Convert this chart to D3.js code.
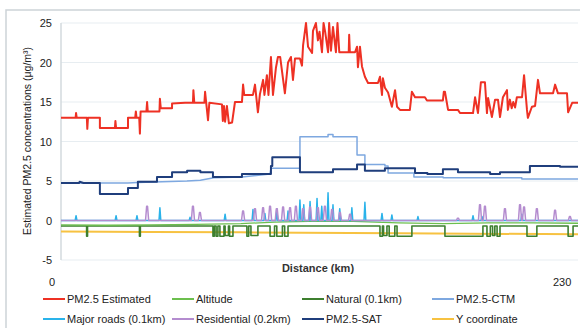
<!DOCTYPE html>
<head>
  <meta charset="utf-8">
  <style>
    body { margin: 0; background: #fff; }
    text { font-family: 'Liberation Sans', Arial, sans-serif; fill: #222; }
    .tick-label { font-size: 11px; }
    .legend text { font-size: 11px; }
  </style>
</head>
<body>
  <script src="https://cdn.jsdelivr.net/npm/d3@7"></script>
  <script>
    const width = 580;
    const height = 328;
    const plot = {left: 61, right: 578, top: 23, bottom: 260};

    // y ticks and x end labels
    const yTicks = [-5, 0, 5, 10, 15, 20, 25];
    const xEndLabels = [0, 230];

    // PM2.5 Estimated  [distance km, value]
    const pmEstimated = [
      [0,13.0],[6.5,13.0],[6.7,13.6],[7,13.0],[11.5,13.0],[11.7,11.6],[12,13.0],[17.3,13.0],[17.3,11.7],[24,11.7],
      [24.2,12.6],[24.5,11.7],[29.8,11.7],[29.8,13.0],[33,13.0],[33.3,13.8],[33.6,13.0],[34.8,13.0],[35.1,11.0],[35.4,13.8],
      [38,13.8],[38.3,15.0],[38.6,13.8],[43.8,13.8],[44,15.4],[44.4,14.2],[49.4,14.2],[49.4,14.8],[55.2,14.9],[58.7,14.9],
      [58.9,16.5],[59.3,14.9],[63.8,14.9],[64.1,16.3],[64.6,14.9],[65.4,12.7],[66,14.9],[71.6,14.7],[72,12.6],[72.5,14.5],
      [73,12.5],[73.8,14.5],[74.7,12.3],[76.1,12.4],[77.4,15.0],[80.5,15.0],[81,17.2],[81.5,15.9],[85.4,15.9],[86.3,17.2],
      [87.6,13.7],[88.5,16.0],[89.9,17.8],[90.5,15.9],[91.6,18.4],[92.3,15.9],[93.4,20.7],[94.3,15.9],[95.6,19.3],[96.5,20.7],
      [97.5,20.7],[99.6,16.1],[101,20.0],[102.3,20.7],[103.2,17.8],[104.1,20.5],[106.3,20.5],[107.2,19.6],[107.7,22.2],[109,25.0],
      [109.9,22.0],[111.7,21.2],[112.1,24.0],[113.4,25.0],[114.3,22.8],[115,23.9],[116.1,21.3],[116.8,25.0],[117.5,23.9],[118.8,21.3],
      [119.3,25.0],[120.1,21.5],[121,24.5],[122.3,21.3],[123,25.0],[123.8,21.3],[128,21.3],[128.2,23.5],[128.5,21.3],[130.8,21.3],
      [131.7,22.0],[132.1,19.4],[133,22.0],[133.9,19.5],[135.2,18.2],[136.6,17.4],[141,17.4],[141.9,18.2],[142.8,15.9],[143.2,18.0],
      [144.1,16.8],[145.5,16.2],[147.2,14.4],[148.6,16.5],[149.5,14.4],[150.8,14.0],[155.2,14.0],[156.1,16.3],[157.5,15.6],[161.9,15.6],
      [162.8,15.2],[169.9,15.2],[170.3,16.3],[170.8,16.3],[172.2,14.0],[176.6,14.0],[177.5,13.6],[183.3,13.6],[184.2,15.6],[185.5,13.6],
      [186.8,17.5],[188.6,17.5],[189.5,13.6],[190,15.5],[191.7,13.1],[193.1,15.3],[194.4,15.3],[195.3,13.1],[196.6,15.6],[198.4,16.5],
      [198.8,14.0],[199.7,15.3],[200.5,14.2],[201.2,15.0],[202,14.3],[202.8,15.6],[205.1,15.6],[206,18.4],[207.3,14.0],[207.7,13.0],
      [209.5,14.4],[210.9,14.5],[212.2,17.8],[213.1,16.1],[218.9,16.1],[219.8,17.2],[221.1,16.1],[225.1,16.1],[225.6,13.7],[227.4,14.9],
      [230,14.9]
    ];

    const pmSat = [
      [0,4.75],[8,4.75],[8.3,4.9],[10,4.75],[17.3,4.75],[17.3,3.35],[29.8,3.35],[29.8,4.1],[34.2,4.1],[34.2,4.9],
      [42.7,4.9],[42.7,5.5],[49.4,5.5],[49.4,6.1],[56.1,6.1],[56.1,6.3],[62,6.3],[62,6.1],[67.6,6.1],[67.6,5.5],
      [80.5,5.5],[80.5,5.9],[93.4,5.9],[93.4,6.9],[94,6.9],[94,8.0],[106.3,8.0],[106.3,6.1],[121,6.1],[121,6.5],
      [131.7,6.5],[131.7,7.1],[135.2,7.1],[135.2,6.3],[144.1,6.3],[144.1,6.6],[157.5,6.6],[157.5,6.0],[163,6.0],[163,5.9],
      [169.9,5.9],[169.9,6.5],[176.6,6.5],[176.6,6.1],[190.9,6.1],[190.9,5.9],[195.3,5.9],[195.3,6.1],[208.6,6.1],[208.6,6.9],
      [222,6.9],[222,6.8],[230,6.8]
    ];

    const pmCtm = [
      [0,4.75],[29.8,4.75],[34,4.8],[56,5.0],[62,5.1],[68,5.4],[80.5,5.5],[93,5.9],[93.4,6.6],[106.3,6.6],
      [106.3,10.6],[118.8,10.6],[118.8,10.9],[121,10.9],[121,10.6],[131.7,10.6],[131.7,8.3],[135.2,8.3],[135.2,7.1],[144.1,7.1],
      [144.1,6.9],[145.5,6.9],[145.5,6.0],[157,6.0],[157,5.5],[170,5.5],[170,5.4],[205,5.4],[205,5.25],[230,5.25]
    ];

    const yCoordinate = [[0,-1.4],[40,-1.45],[80,-1.5],[150,-1.6],[230,-1.75]];

    const altitude = [
      [0,-0.55],[20,-0.6],[40,-0.55],[60,-0.5],[80,-0.4],[95,-0.2],[110,-0.1],[130,-0.1],[150,-0.3],[170,-0.4],
      [190,-0.3],[210,-0.3],[230,-0.35]
    ];

    // Natural (0.1km): baseline, then dips [from km, to km, depth]
    const naturalBase = -0.7;
    const naturalDips = [
      [11.4,11.8,-2.0],[34.9,35.3,-2.0],[67.6,68.2,-2.0],[69.0,69.8,-2.0],[70.7,72.5,-2.0],[73,74.5,-1.9],[75,76.5,-2.0],
      [82.7,83.5,-2.0],[84.5,87.6,-1.9],[93,95,-2.0],[96,98.5,-2.0],[99.5,101,-2.0],[141.9,143,-2.0],[143.5,145,-1.9],
      [146,148.5,-2.0],[149.5,156.1,-2.0],[170.8,187.7,-2.0],[189.5,191,-2.0],[192,193,-1.9],[194,195.3,-2.0],
      [207.3,211.7,-2.0],[225.6,227.8,-2.0]
    ];

    // Major roads (0.1km): spikes [km, height]
    const roadSpikes = [
      [6.7,0.6],[24.5,0.6],[33.8,0.6],[44,1.6],[57.4,0.4],[73,0.8],[85.4,1.4],[90.7,0.9],[96,1.5],[101,1.2],
      [106.3,2.6],[108,2.0],[110.8,2.4],[113.9,2.8],[116,1.8],[118.8,3.5],[121,2.0],[124,1.5],[129.4,1.6],[135.2,2.3],
      [142.8,0.9],[147.2,0.7],[158.8,0.5],[183.3,0.6],[187.3,0.5],[205,0.8]
    ];

    // Residential (0.2km): bumps [km, height]
    const residentialBumps = [
      [38.3,1.8],[58.7,1.8],[61.8,1.0],[81,1.2],[86.3,1.5],[89.9,1.6],[93,1.8],[96,1.5],[98.8,1.7],[101.9,1.6],
      [104.5,1.8],[107.7,1.5],[110.8,1.7],[114.3,1.6],[117.4,1.8],[120.6,1.4],[124.1,1.0],[128.6,0.8],[176.6,0.3],[186.4,2.0],
      [188.6,1.8],[197.5,1.5],[204.2,2.0],[206,1.7],[211.7,1.5],[219.8,1.3],[226.4,0.5]
    ];

    const legendItems = [
      {name: "PM2.5 Estimated", color: "#ee3124"},
      {name: "Altitude", color: "#6cbf4e"},
      {name: "Natural (0.1km)", color: "#3d7f2f"},
      {name: "PM2.5-CTM", color: "#7ea8e0"},
      {name: "Major roads (0.1km)", color: "#2ab3ea"},
      {name: "Residential (0.2km)", color: "#b48ccf"},
      {name: "PM2.5-SAT", color: "#1f3e7c"},
      {name: "Y coordinate", color: "#f7c241"}
    ];
    const colorOf = name => legendItems.find(d => d.name === name).color;

    const svg = d3.select("body").append("svg")
      .attr("width", width)
      .attr("height", height);

    const x = d3.scaleLinear().domain([0, 230]).range([plot.left, plot.right]);
    const y = d3.scaleLinear().domain([-5, 25]).range([plot.bottom, plot.top]);

    // outer frame
    svg.append("path")
      .attr("d", "M6," + height + "V10H" + width)
      .attr("fill", "none")
      .attr("stroke", "#cdd3d7")
      .attr("stroke-width", 1.5);

    // grid lines
    svg.append("g").selectAll("line").data(yTicks).enter().append("line")
      .attr("x1", plot.left).attr("x2", plot.right)
      .attr("y1", d => y(d)).attr("y2", d => y(d))
      .attr("stroke", "#e7edf1").attr("stroke-width", 1);

    svg.append("line")
      .attr("x1", plot.left).attr("x2", plot.left)
      .attr("y1", y(25)).attr("y2", y(-5))
      .attr("stroke", "#d3dade").attr("stroke-width", 1.5);

    // y tick labels
    svg.append("g").selectAll("text").data(yTicks).enter().append("text")
      .attr("class", "tick-label")
      .attr("x", 52)
      .attr("y", d => y(d) + 4)
      .attr("text-anchor", "end")
      .text(d => d);

    // x end labels
    svg.append("g").selectAll("text").data(xEndLabels).enter().append("text")
      .attr("class", "tick-label")
      .attr("x", d => d === 0 ? x(d) - 12 : x(d) - 25)
      .attr("y", 286)
      .text(d => d);

    svg.append("text")
      .attr("x", 318).attr("y", 272)
      .attr("text-anchor", "middle")
      .style("font-size", "11px")
      .style("font-weight", "bold")
      .style("fill", "#333")
      .text("Distance (km)");

    svg.append("text")
      .attr("transform", "translate(31,141) rotate(-90)")
      .attr("text-anchor", "middle")
      .style("font-size", "10.5px")
      .text("Estimated PM2.5 concentrations (μg/m³)");

    // build series points
    const naturalPts = [[0, naturalBase]];
    naturalDips.forEach(d => {
      naturalPts.push([d[0], naturalBase], [d[0], d[2]], [d[1], d[2]], [d[1], naturalBase]);
    });
    naturalPts.push([230, naturalBase]);

    const roadPts = [[0, 0]];
    roadSpikes.forEach(d => { roadPts.push([d[0] - 0.4, 0], [d[0], d[1]], [d[0] + 0.4, 0]); });
    roadPts.push([230, 0]);

    const resPts = [[0, 0]];
    residentialBumps.forEach(d => {
      resPts.push([d[0] - 0.7, 0], [d[0] - 0.2, d[1]], [d[0] + 0.2, d[1]], [d[0] + 0.7, 0]);
    });
    resPts.push([230, 0]);

    const line = d3.line().x(d => x(d[0])).y(d => y(d[1]));

    const series = [
      {name: "Y coordinate", data: yCoordinate, w: 2},
      {name: "Natural (0.1km)", data: naturalPts, w: 1.6},
      {name: "Altitude", data: altitude, w: 1.3},
      {name: "Major roads (0.1km)", data: roadPts, w: 1.5},
      {name: "Residential (0.2km)", data: resPts, w: 1.5},
      {name: "PM2.5-CTM", data: pmCtm, w: 1.5},
      {name: "PM2.5-SAT", data: pmSat, w: 2},
      {name: "PM2.5 Estimated", data: pmEstimated, w: 2}
    ];

    svg.append("g").selectAll("path").data(series).enter().append("path")
      .attr("d", d => line(d.data))
      .attr("fill", "none")
      .attr("stroke", d => colorOf(d.name))
      .attr("stroke-width", d => d.w)
      .attr("stroke-linejoin", "round");

    // legend
    const colX = [43, 172, 302, 432];
    const rowY = [299, 319];
    const legend = svg.append("g").attr("class", "legend")
      .selectAll("g").data(legendItems).enter().append("g")
      .attr("transform", (d, i) => "translate(" + colX[i % 4] + "," + rowY[Math.floor(i / 4)] + ")");
    legend.append("line")
      .attr("x1", 0).attr("x2", 22)
      .attr("stroke", d => d.color).attr("stroke-width", 2);
    legend.append("text")
      .attr("x", 24).attr("y", 4)
      .text(d => d.name);
  </script>
</body>
